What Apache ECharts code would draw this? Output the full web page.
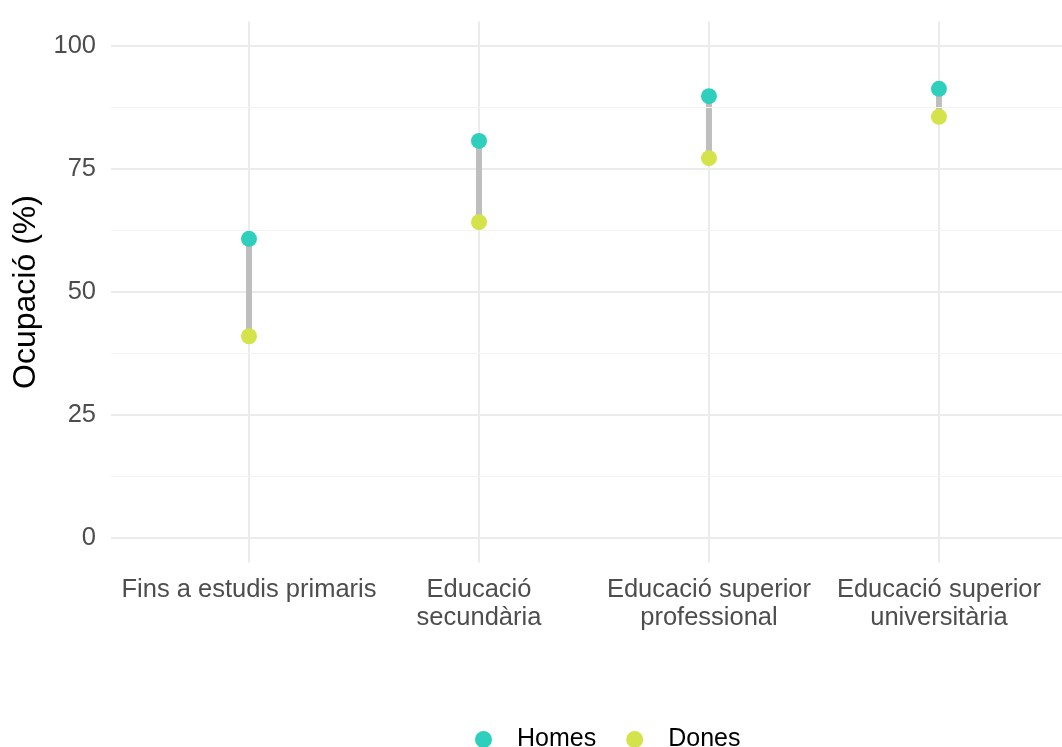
<!DOCTYPE html>
<html><head><meta charset="utf-8">
<script src="https://cdn.jsdelivr.net/npm/echarts@6/dist/echarts.min.js"></script>
<style>html,body{margin:0;padding:0;background:#fff}#c{width:1062px;height:747px}</style>
</head><body><div id="c"></div>
<script>
const categories = ['Fins a estudis primaris', 'Educació\nsecundària', 'Educació superior\nprofessional', 'Educació superior\nuniversitària'];
const homes = [60.8, 80.7, 89.8, 91.3];
const dones = [41.0, 64.2, 77.2, 85.6];
const yTicks = [0, 25, 50, 75, 100];
const yMinor = [12.5, 37.5, 62.5, 87.5];
const xTicks = [0, 1, 2, 3];

const chart = echarts.init(document.getElementById('c'));
const font = 'Liberation Sans, Arial, sans-serif';
chart.setOption({
  animation: false,
  textStyle: { fontFamily: font },
  grid: { left: 111, right: 0, top: 21.4, bottom: 184.4 },
  xAxis: {
    type: 'value', min: -0.6, max: 3.535,
    axisLine: { show: false },
    axisTick: { show: false, customValues: xTicks },
    axisLabel: { customValues: xTicks, formatter: v => categories[Math.round(v)], color: '#4d4d4d', fontSize: 25.5, lineHeight: 28, margin: 13, fontFamily: font },
    splitLine: { show: true, lineStyle: { color: '#ebebeb', width: 2 } }
  },
  yAxis: {
    type: 'value', min: -5, max: 105,
    name: 'Ocupació (%)', nameLocation: 'middle', nameGap: 69,
    nameTextStyle: { color: '#000', fontSize: 32, fontFamily: font },
    axisLine: { show: false },
    axisTick: { show: false, customValues: yTicks },
    axisLabel: { customValues: yTicks, color: '#4d4d4d', fontSize: 25.5, margin: 15, fontFamily: font },
    splitLine: { show: true, lineStyle: { color: '#ebebeb', width: 2 } }
  },
  legend: {
    data: ['Homes', 'Dones'], left: 470, top: 722, icon: 'circle', itemWidth: 17, itemHeight: 17, itemGap: 30,
    textStyle: { color: '#000', fontSize: 25, padding: [0, 0, 0, 20], fontFamily: font }
  },
  series: [
    {
      type: 'line', silent: true, data: [],
      markLine: { silent: true, symbol: 'none', label: { show: false },
        lineStyle: { color: '#f3f3f3', width: 1.2, type: 'solid' },
        data: yMinor.map(v => ({ yAxis: v })) }
    },
    {
      type: 'custom', silent: true,
      data: xTicks.map(i => [i, dones[i], homes[i]]),
      renderItem: (params, api) => {
        const a = api.coord([api.value(0), api.value(1)]);
        const b = api.coord([api.value(0), api.value(2)]);
        return { type: 'line', shape: { x1: a[0], y1: a[1], x2: b[0], y2: b[1] }, style: { stroke: '#bebebe', lineWidth: 6 } };
      }
    },
    { name: 'Homes', type: 'scatter', symbolSize: 16, itemStyle: { color: '#2ecfbd', opacity: 1 }, data: xTicks.map(i => [i, homes[i]]), z: 5 },
    { name: 'Dones', type: 'scatter', symbolSize: 16, itemStyle: { color: '#d4e34a', opacity: 1 }, data: xTicks.map(i => [i, dones[i]]), z: 5 }
  ]
});
</script></body></html>
